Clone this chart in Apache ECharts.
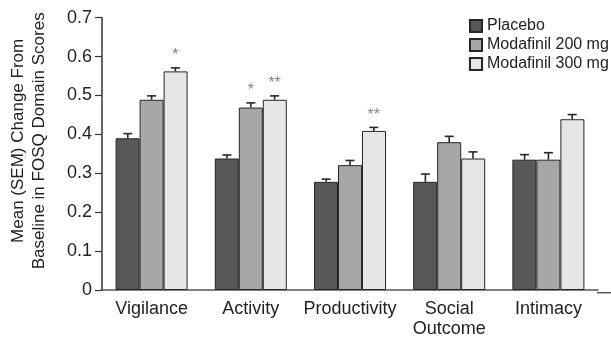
<!DOCTYPE html>
<html>
<head>
<meta charset="utf-8">
<script src="https://cdn.jsdelivr.net/npm/echarts@6/dist/echarts.min.js"></script>
<style>
  html, body { margin: 0; padding: 0; background: #fff; }
  #chart { width: 611px; height: 339px; }
</style>
</head>
<body>
<div id="chart"></div>
<script>
// FOSQ domains and mean (SEM) change from baseline per treatment arm
const categories = ['Vigilance', 'Activity', 'Productivity', 'Social\nOutcome', 'Intimacy'];
const seriesNames = ['Placebo', 'Modafinil 200 mg', 'Modafinil 300 mg'];

const placebo    = [0.390, 0.338, 0.278, 0.278, 0.335];
const placeboSem = [0.012, 0.009, 0.007, 0.020, 0.013];

const mod200     = [0.489, 0.469, 0.321, 0.380, 0.335];
const mod200Sem  = [0.010, 0.012, 0.012, 0.015, 0.018];

const mod300     = [0.562, 0.489, 0.409, 0.338, 0.439];
const mod300Sem  = [0.009, 0.010, 0.009, 0.017, 0.012];

// significance markers vs placebo
const placeboSig = ['', '', '', '', ''];
const mod200Sig  = ['', '*', '', '', ''];
const mod300Sig  = ['*', '**', '**', '', ''];

const yTicks = [0, 0.1, 0.2, 0.3, 0.4, 0.5, 0.6, 0.7];

const FONT = '"Liberation Sans", Arial, Helvetica, sans-serif';
const fills = ['#56585a', '#a6a7a9', '#e5e6e7'];
const edge = '#262626';
const BAR_W = 24;

const chart = echarts.init(document.getElementById('chart'), null, { renderer: 'canvas' });

function barSeries(i, values) {
  return {
    type: 'bar',
    name: seriesNames[i],
    data: values,
    barWidth: BAR_W,
    barGap: '0%',
    itemStyle: { color: fills[i], borderColor: edge, borderWidth: 1 },
    z: 2
  };
}

// upper error whisker with cap, plus significance asterisks
function errorSeries(i, values, sems, sig) {
  const slot = i - 1;
  return {
    type: 'custom',
    name: 'err' + i,
    data: values.map((v, k) => [k, v, sems[k]]),
    encode: { x: 0, y: 1 },
    z: 3,
    silent: true,
    renderItem: function (params, api) {
      const k = api.value(0), v = api.value(1), e = api.value(2);
      const band = api.size([1, 0])[0];
      const base = api.coord([k, v]);
      const top = api.coord([k, v + e]);
      const cx = base[0] + slot * band * (BAR_W / 100);
      const stroke = { stroke: edge, lineWidth: 1.6 };
      const children = [
        { type: 'line', shape: { x1: cx, y1: base[1], x2: cx, y2: top[1] }, style: stroke },
        { type: 'line', shape: { x1: cx - 4.5, y1: top[1], x2: cx + 4.5, y2: top[1] }, style: stroke }
      ];
      const s = sig[params.dataIndex];
      if (s) {
        children.push({
          type: 'text',
          style: {
            x: cx, y: top[1] - 4, text: s,
            align: 'center', verticalAlign: 'bottom',
            fill: '#8a8a8a', font: '16px ' + FONT
          }
        });
      }
      return { type: 'group', children: children };
    }
  };
}

const option = {
  animation: false,
  backgroundColor: '#ffffff',
  textStyle: { fontFamily: FONT },
  grid: { left: 98, right: 13, top: 17.7, bottom: 46.3, containLabel: false },
  legend: {
    data: seriesNames,
    orient: 'vertical',
    left: 469,
    top: 18,
    padding: 0,
    itemWidth: 12,
    itemHeight: 12,
    itemGap: 3,
    icon: 'rect',
    textStyle: { fontFamily: FONT, fontSize: 16, color: '#222' }
  },
  xAxis: {
    type: 'category',
    data: categories,
    axisLine: { lineStyle: { color: '#555', width: 1.5 } },
    axisTick: { show: false },
    axisLabel: { fontFamily: FONT, fontSize: 18, color: '#222', margin: 9, lineHeight: 20, interval: 0 }
  },
  yAxis: {
    type: 'value',
    min: 0,
    max: 0.7,
    interval: 0.1,
    name: 'Mean (SEM) Change From\nBaseline in FOSQ Domain Scores',
    nameLocation: 'middle',
    nameGap: 52,
    nameTextStyle: { fontFamily: FONT, fontSize: 17, color: '#222', lineHeight: 21, padding: [0, 0, 0, 26] },
    splitLine: { show: false },
    axisLine: { show: true, lineStyle: { color: '#333', width: 1.5 } },
    axisTick: { show: true, length: 7, lineStyle: { color: '#333', width: 1.2 } },
    axisLabel: {
      fontFamily: FONT, fontSize: 18, color: '#222', margin: 10,
      formatter: function (v) {
        const t = yTicks.find(x => Math.abs(x - v) < 1e-9);
        return t === 0 ? '0' : String(+(t !== undefined ? t : v).toFixed(1));
      }
    }
  },
  graphic: [
    // baseline continues past the last category to the right edge
    { type: 'line', shape: { x1: 597, y1: 292.7, x2: 611, y2: 292.7 }, style: { stroke: '#555', lineWidth: 1.5 }, z: 1 }
  ],
  series: [
    barSeries(0, placebo),
    barSeries(1, mod200),
    barSeries(2, mod300),
    errorSeries(0, placebo, placeboSem, placeboSig),
    errorSeries(1, mod200, mod200Sem, mod200Sig),
    errorSeries(2, mod300, mod300Sem, mod300Sig)
  ]
};

chart.setOption(option);
</script>
</body>
</html>
